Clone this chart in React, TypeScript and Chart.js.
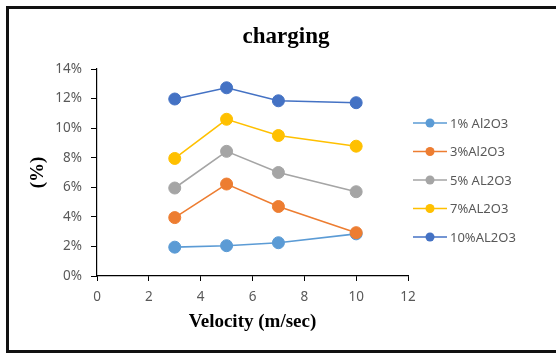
import React, { useEffect, useRef } from "react";
import { Chart, registerables } from "chart.js";

Chart.register(...registerables);

const velocities = [3, 5, 7, 10];
const seriesLabels = ["1% Al2O3", "3%Al2O3", "5% AL2O3", "7%AL2O3", "10%AL2O3"];
const s1 = [1.95, 2.05, 2.25, 2.85];
const s3 = [3.95, 6.22, 4.7, 2.93];
const s5 = [5.95, 8.43, 7.0, 5.7];
const s7 = [7.95, 10.6, 9.5, 8.78];
const s10 = [11.97, 12.73, 11.85, 11.72];
const seriesColors = ["#5B9BD5", "#ED7D31", "#A5A5A5", "#FFC000", "#4472C4"];
const titleText = "charging";
const xTitle = "Velocity (m/sec)";
const yTitle = "(%)";

const TICK_FONT = "'Noto Sans', 'Open Sans', sans-serif";
const SERIF = "'Liberation Serif', 'DejaVu Serif', serif";

export default function App() {
  const ref = useRef<HTMLCanvasElement | null>(null);
  useEffect(() => {
    const canvas = ref.current;
    if (!canvas) return;
    const allSeries = [s1, s3, s5, s7, s10];
    const datasets = allSeries.map((vals, i) => ({
      label: seriesLabels[i],
      data: velocities.map((x, j) => ({ x, y: vals[j] })),
      borderColor: seriesColors[i],
      backgroundColor: seriesColors[i],
      pointBackgroundColor: seriesColors[i],
      pointBorderColor: seriesColors[i],
      pointRadius: 6,
      pointBorderWidth: 1,
      borderWidth: 1.6,
      showLine: true,
      tension: 0,
      order: allSeries.length - i,
    }));

    const overlay = {
      id: "overlay",
      afterDraw(chart: any) {
        const ctx = chart.ctx;
        ctx.save();
        ctx.fillStyle = "#000";
        ctx.font = `bold 23px ${SERIF}`;
        ctx.textAlign = "center";
        ctx.textBaseline = "alphabetic";
        ctx.fillText(titleText, 286, 43);
        ctx.font = `13px ${TICK_FONT}`;
        ctx.textAlign = "left";
        ctx.textBaseline = "middle";
        seriesLabels.forEach((lab, i) => {
          const y = 123 + i * 28.5;
          ctx.strokeStyle = seriesColors[i];
          ctx.lineWidth = 1.6;
          ctx.beginPath();
          ctx.moveTo(413, y);
          ctx.lineTo(447, y);
          ctx.stroke();
          ctx.fillStyle = seriesColors[i];
          ctx.beginPath();
          ctx.arc(430, y, 4.5, 0, Math.PI * 2);
          ctx.fill();
          ctx.fillStyle = "#595959";
          ctx.fillText(lab, 450, y + 1);
        });
        ctx.restore();
      },
    };

    const chart = new Chart(canvas, {
      type: "scatter",
      data: { datasets },
      options: {
        animation: false,
        responsive: false,
        devicePixelRatio: 1,
        layout: { padding: { left: 10, top: 69, right: 148, bottom: 8 } },
        plugins: {
          legend: { display: false },
          title: { display: false },
          tooltip: { enabled: false },
        },
        scales: {
          x: {
            type: "linear",
            min: 0,
            max: 12,
            ticks: {
              stepSize: 2,
              color: "#595959",
              font: { family: TICK_FONT, size: 13.5 },
              padding: 8,
            },
            grid: { drawOnChartArea: false, drawTicks: true, tickLength: 5, color: "#000" },
            border: { color: "#000", width: 1.2 },
            title: {
              display: true,
              text: xTitle,
              color: "#000",
              font: { family: SERIF, size: 19, weight: "bold" },
              padding: { top: 0, bottom: 13 },
            },
            afterFit: (s: any) => {
              s.height = 70;
            },
          },
          y: {
            type: "linear",
            min: 0,
            max: 14,
            ticks: {
              stepSize: 2,
              color: "#595959",
              font: { family: TICK_FONT, size: 13.5 },
              padding: 9,
              callback: (v: any) => `${v}%`,
            },
            grid: { drawOnChartArea: false, drawTicks: true, tickLength: 6, color: "#000" },
            border: { color: "#000", width: 1.2 },
            title: {
              display: true,
              text: yTitle,
              color: "#000",
              font: { family: SERIF, size: 19, weight: "bold" },
              padding: { top: 17, bottom: 0 },
            },
            afterFit: (s: any) => {
              s.width = 87;
            },
          },
        },
      },
      plugins: [overlay],
    });
    return () => chart.destroy();
  }, []);

  return (
    <div style={{ position: "fixed", left: 0, top: 0, width: 556, height: 354, background: "#fff" }}>
      <div
        style={{
          position: "absolute",
          left: 6,
          top: 6,
          width: 550,
          height: 347,
          boxSizing: "border-box",
          borderTop: "3px solid #111",
          borderLeft: "3px solid #111",
          borderBottom: "3px solid #111",
        }}
      />
      <canvas ref={ref} width={556} height={354} style={{ position: "absolute", left: 0, top: 0 }} />
    </div>
  );
}
